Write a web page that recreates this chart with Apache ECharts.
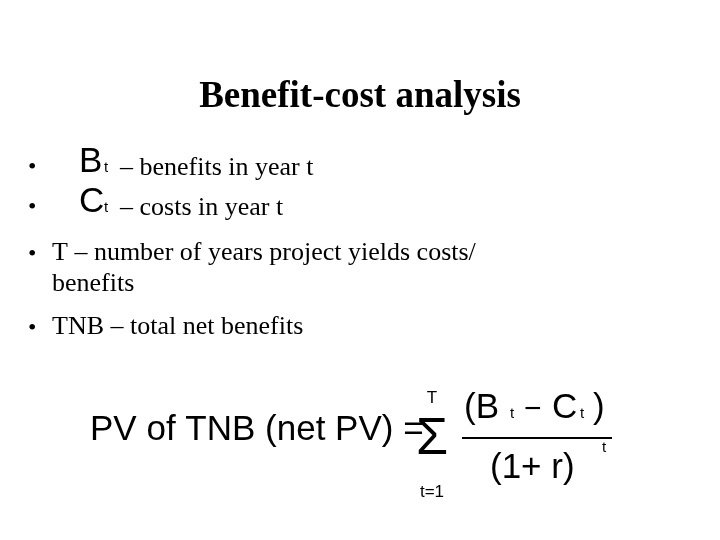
<!DOCTYPE html>
<html>
<head>
<meta charset="utf-8">
<script src="https://cdn.jsdelivr.net/npm/echarts@6/dist/echarts.min.js"></script>
<style>html,body{margin:0;background:#fff}#chart{width:720px;height:540px}</style>
</head>
<body>
<div id="chart"></div>
<script>
"use strict"

const titleText = "Benefit-cost analysis";
const symbolLines = [
  { sym: "B", sub: "t", rest: "– benefits in year t" },
  { sym: "C", sub: "t", rest: "– costs in year t" }
];
const plainLines = [
  ["T – number of years project yields costs/", "benefits"],
  ["TNB – total net benefits"]
];

const serif = "'Liberation Serif', 'DejaVu Serif', serif";
const sans = "'Liberation Sans', Arial, sans-serif";

// y is the vertical centre of the text
const txt = (x, y, text, size, family, extra) => ({
  type: "text", x: x, y: y,
  style: Object.assign({ text: text, fontSize: size, fontFamily: family, fill: "#000", verticalAlign: "middle" }, extra || {})
});

let els = [];
els.push(txt(360, 97, titleText, 37, serif, { fontWeight: "bold", align: "center" }));

symbolLines.forEach((l, i) => {
  const y = 166 + i * 40;
  els.push(txt(28, y + 2, "•", 24, serif));
  els.push(txt(79, y - 4, l.sym, 35, sans));
  els.push(txt(104, y + 2, l.sub, 15, sans));
  els.push(txt(120, y + 2, l.rest, 26, serif));
});

let y = 253;
plainLines.forEach((lines) => {
  els.push(txt(28, y + 2, "•", 24, serif));
  lines.forEach((t, j) => {
    els.push(txt(52, y, t, 26, serif));
    if (j < lines.length - 1) y += 31;
  });
  y += 43;
});

// formula
els.push(txt(90, 430, "PV of TNB (net PV) =", 35, sans));
els.push(txt(432, 440, "Σ", 52, sans, { align: "center" }));
els.push(txt(432, 398, "T", 17, sans, { align: "center" }));
els.push(txt(432, 492, "t=1", 17, sans, { align: "center" }));
els.push(txt(464, 408, "(B", 35, sans));
els.push(txt(510, 414, "t", 15, sans));
els.push(txt(524, 410, "−", 30, sans));
els.push(txt(552, 408, "C", 35, sans));
els.push(txt(580, 414, "t", 15, sans));
els.push(txt(593, 408, ")", 35, sans));
els.push({ type: "line", shape: { x1: 462, y1: 438, x2: 612, y2: 438 }, style: { stroke: "#000", lineWidth: 2 } });
els.push(txt(490, 468, "(1+ r)", 35, sans));
els.push(txt(602, 448, "t", 15, sans));

const chart = echarts.init(document.getElementById("chart"));
chart.setOption({ backgroundColor: "#fff", graphic: els });
</script>
</body>
</html>
